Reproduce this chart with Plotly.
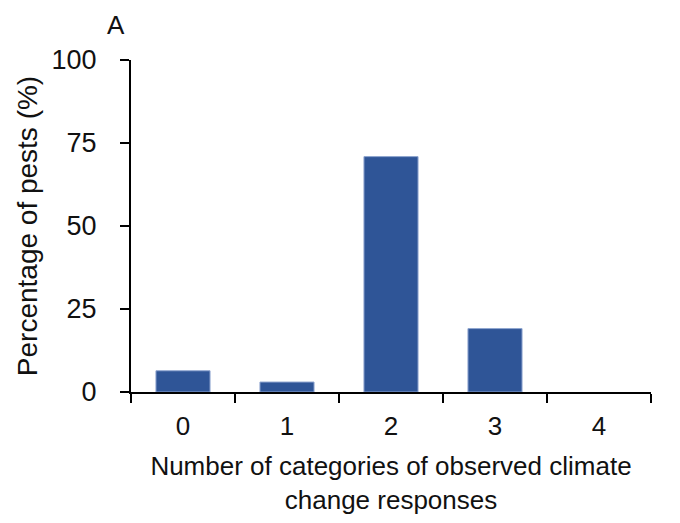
import plotly.graph_objects as go

categories = ["0", "1", "2", "3", "4"]
values = [6.4, 3.0, 70.9, 19.1, 0.0]
y_ticks = [0, 25, 50, 75, 100]

FONT = "Liberation Sans, Arial, sans-serif"
fig = go.Figure()
fig.add_trace(go.Bar(
    x=categories, y=values, width=0.52,
    marker=dict(color="#2F5597",
                line=dict(color="#8FA6D0", width=[1 if v > 0 else 0 for v in values])),
))
fig.update_layout(
    width=680, height=523,
    margin=dict(l=123, r=37, t=52, b=139),
    paper_bgcolor="white", plot_bgcolor="white",
    font=dict(family=FONT, size=26, color="#111111"),
    showlegend=False,
)
fig.update_xaxes(
    type="category", range=[-0.5, 4.5], tickson="boundaries",
    ticks="outside", ticklen=9, tickwidth=2, tickcolor="black",
    showline=True, linecolor="black", linewidth=2,
    showgrid=False, zeroline=False, automargin=False,
    tickfont=dict(size=26), ticklabelstandoff=10,
    title=dict(text="Number of categories of observed climate<br>change responses",
               font=dict(size=26), standoff=17),
)
fig.update_yaxes(
    range=[0, 100], tickvals=y_ticks,
    ticks="outside", ticklen=9, tickwidth=2, tickcolor="black",
    showline=True, linecolor="black", linewidth=2,
    showgrid=False, zeroline=False, automargin=False,
    tickfont=dict(size=27), ticklabelstandoff=18,
    title=dict(text="Percentage of pests (%)", font=dict(size=28), standoff=6),
)
fig.add_annotation(text="A", xref="paper", yref="paper", x=-0.028, y=1.0,
                   yshift=52, showarrow=False, font=dict(size=26),
                   xanchor="center", yanchor="top")
fig.write_html("out.html")
